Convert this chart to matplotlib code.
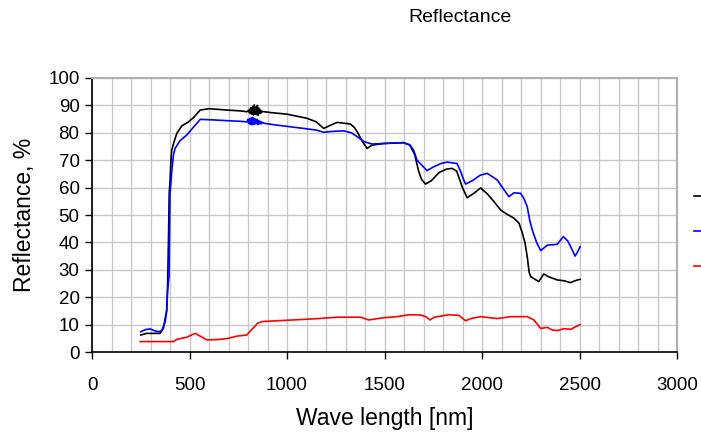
import matplotlib
matplotlib.use("Agg")
import matplotlib.pyplot as plt
from matplotlib.ticker import MultipleLocator

plt.rcParams['font.family'] = ['Liberation Sans', 'DejaVu Sans']

# ---- data ----
black_wl = [250, 281, 349, 366, 383, 387, 392, 396, 400, 405, 409, 420, 435, 460, 495, 520, 555, 600, 692, 760, 794,
            800, 804, 808, 812, 816, 820, 824, 828, 832, 836, 840, 844, 848, 852, 856, 860, 864, 868, 872,
            914, 1000, 1102, 1150, 1188, 1215, 1257, 1325, 1345, 1360, 1385, 1411, 1436, 1496, 1597, 1630, 1655,
            1675, 1690, 1710, 1740, 1780, 1820, 1847, 1870, 1885, 1898, 1924, 1960, 1993, 2030, 2060, 2096, 2130,
            2163, 2190, 2207, 2220, 2232, 2242, 2250, 2291, 2317, 2340, 2386, 2420, 2455, 2470, 2490, 2503]
black_val = [6.2, 6.8, 6.8, 8.6, 15.3, 22, 40, 58, 62, 70, 73.7, 76.5, 79.8, 82.5, 84, 85.5, 88.3, 88.8, 88.3, 88, 87.7,
             88, 87.6, 88.6, 87.0, 89.2, 86.8, 89.6, 86.5, 90.2, 86.8, 89.4, 86.6, 90.0, 86.4, 89.0, 87.0, 88.3, 87.3, 87.8,
             87.4, 86.8, 85.3, 84, 81.6, 82.5, 83.8, 83.2, 82, 80.4, 77, 74.3, 75.5, 76.1, 76.4, 75.5, 72,
             66, 63, 61.3, 62.5, 65.5, 66.8, 67, 66, 63, 60.3, 56.3, 58, 59.9, 57.5, 55, 51.8, 50.2,
             48.9, 47, 43.4, 40, 34.8, 29, 27.5, 25.7, 28.5, 27.5, 26.3, 26, 25.3, 25.8, 26.3, 26.5]

blue_wl = [250, 275, 298, 320, 341, 358, 375, 383, 387, 395, 397, 400, 405, 409, 418, 426, 450, 486, 520, 555, 623,
           700, 760, 794,
           796, 800, 804, 808, 812, 816, 820, 824, 828, 832, 836, 840, 844, 848, 852, 856, 860, 864, 868, 872, 880,
           948, 1085, 1150, 1188, 1230, 1291, 1330, 1360, 1394, 1436, 1531, 1597, 1630, 1649, 1667, 1690, 1718,
           1750, 1790, 1821, 1872, 1890, 1905, 1916, 1950, 1990, 2027, 2078, 2110, 2138, 2164, 2198, 2215, 2232,
           2245, 2258, 2280, 2301, 2335, 2386, 2417, 2440, 2455, 2477, 2490, 2503]
blue_val = [7.4, 8.2, 8.4, 7.8, 7.4, 7.8, 11, 14.7, 22, 27.5, 40, 58, 62, 66, 72, 74.3, 77, 79.2, 82, 84.9, 84.7,
            84.4, 84.2, 84,
            84, 84.9, 83.4, 85.2, 83.1, 85.4, 82.9, 85.6, 83.0, 85.2, 83.2, 85.0, 83.3, 84.8, 83.0, 84.4, 83.2, 84.1,
            83.3, 83.9, 83.5,
            82.8, 81.6, 81, 80.2, 80.5, 80.7, 80, 78.6, 76.8, 75.9, 76.2, 76.4, 75.6, 73.7, 70, 68.3, 66.2,
            67.5, 68.8, 69.3, 68.8, 66, 63, 61.3, 62.5, 64.5, 65.2, 62.8, 59.5, 56.7, 58.1, 57.9, 56, 53,
            48, 44.5, 40, 37, 39, 39.3, 42.1, 40.5, 38.4, 35, 36.5, 38.4]

red_wl = [247, 418, 435, 486, 529, 560, 589, 657, 700, 743, 794, 810, 830, 850, 871, 948, 1085, 1160, 1257, 1377,
          1419, 1496, 1565, 1625, 1685, 1711, 1733, 1756, 1830, 1881, 1916, 1942, 1993, 2078, 2147, 2232, 2266,
          2285, 2301, 2335, 2361, 2387, 2420, 2455, 2489, 2503]
red_val = [3.8, 3.8, 4.6, 5.4, 6.8, 5.6, 4.4, 4.6, 5, 5.8, 6.2, 7.5, 9, 10.5, 11.1, 11.4, 11.9, 12.2, 12.7, 12.7,
           11.7, 12.5, 12.9, 13.6, 13.5, 12.9, 11.7, 12.7, 13.6, 13.4, 11.4, 12.2, 12.9, 12.2, 12.9, 12.9, 11.7,
           10, 8.6, 9.0, 8.0, 7.8, 8.5, 8.3, 9.5, 10]

# legend labels are cut off at the right edge in the reference, so only the line keys show
series_labels = [" ", " ", " "]
series_colors = ["#000000", "#0000ff", "#ff0000"]

x_ticks = [0, 500, 1000, 1500, 2000, 2500, 3000]
y_ticks = [0, 10, 20, 30, 40, 50, 60, 70, 80, 90, 100]

# ---- figure ----
W, H = 701, 436
fig = plt.figure(figsize=(W / 100, H / 100), dpi=100)
ax = fig.add_axes([92 / W, 1 - 352 / H, (677 - 92) / W, (352 - 78) / H])

lines = []
for wl, val, lab, col in zip([black_wl, blue_wl, red_wl], [black_val, blue_val, red_val],
                             series_labels, series_colors):
    ln, = ax.plot(wl, val, color=col, lw=1.2, label=lab, zorder=3)
    lines.append(ln)

ax.set_xlim(0, 3000)
ax.set_ylim(0, 100)
ax.set_xticks(x_ticks)
ax.set_yticks(y_ticks)
ax.xaxis.set_minor_locator(MultipleLocator(100))
ax.grid(True, which='both', axis='x', color='#c8c8c8', lw=1.0, zorder=0)
ax.grid(True, which='major', axis='y', color='#c8c8c8', lw=1.0, zorder=0)
ax.tick_params(axis='x', which='minor', length=0)
ax.tick_params(axis='both', which='major', direction='out', length=5, width=1.0,
               labelsize=13.5, colors='#000000')
ax.tick_params(axis='x', pad=13)
ax.tick_params(axis='y', pad=4)

for s in ['top', 'right']:
    ax.spines[s].set_color('#b0b0b0')
    ax.spines[s].set_linewidth(1.5)
for s in ['left', 'bottom']:
    ax.spines[s].set_color('#000000')
    ax.spines[s].set_linewidth(1.2)

ax.set_xlabel("Wave length [nm]", fontsize=16.5, labelpad=9)
ax.set_ylabel("Reflectance, %", fontsize=16.5, labelpad=9)

fig.text(460 / W, 1 - 18 / H, "Reflectance", ha='center', va='center', fontsize=14)

fig.legend(handles=lines, labels=series_labels, loc='upper left', bbox_to_anchor=(694 / W, 1 - 190 / H),
           frameon=False, fontsize=10, handlelength=2.5, borderpad=0, borderaxespad=0,
           labelspacing=1.52, handletextpad=0.8)

fig.savefig("out.png", dpi=100)
